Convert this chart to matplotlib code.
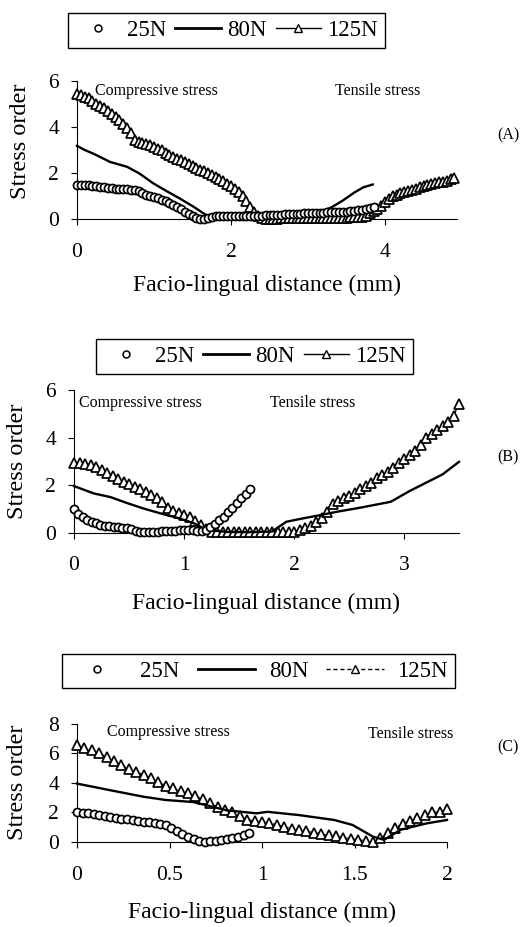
import numpy as np
import matplotlib
matplotlib.use("Agg")
import matplotlib.pyplot as plt
from matplotlib.lines import Line2D
from matplotlib.ticker import FuncFormatter

plt.rcParams['font.family'] = ['Liberation Serif', 'DejaVu Serif']

# ---------------- Panel A data ----------------
a25_x = np.round(np.arange(0, 3.851, 0.05), 2)
a25_y = [1.50, 1.48, 1.47, 1.46, 1.44, 1.42, 1.40, 1.38, 1.36, 1.34,
         1.32, 1.31, 1.30, 1.29, 1.28, 1.25, 1.20, 1.13, 1.06, 1.01,
         0.96, 0.90, 0.84, 0.77, 0.69, 0.61, 0.52, 0.42, 0.32, 0.22,
         0.13, 0.06, 0.01, 0.00, 0.04, 0.10, 0.12, 0.12, 0.12, 0.12,
         0.12, 0.13, 0.13, 0.13, 0.14, 0.14, 0.14, 0.15, 0.15, 0.16,
         0.17, 0.17, 0.18, 0.19, 0.20, 0.21, 0.22, 0.22, 0.23, 0.24,
         0.25, 0.26, 0.27, 0.28, 0.28, 0.29, 0.29, 0.30, 0.30, 0.31,
         0.32, 0.33, 0.35, 0.37, 0.40, 0.44, 0.48, 0.52]
a80_x = [0, 0.1, 0.22, 0.43, 0.65, 0.81, 0.99, 1.17, 1.33, 1.51, 1.64, 1.72,
         1.9, 2.2, 2.5, 2.8, 3.0, 3.15, 3.3, 3.45, 3.6, 3.72, 3.84]
a80_y = [3.18, 3.0, 2.83, 2.48, 2.27, 1.98, 1.55, 1.2, 0.9, 0.54, 0.25, 0.1,
         0.08, 0.08, 0.1, 0.14, 0.2, 0.3, 0.5, 0.8, 1.15, 1.38, 1.5]
a125_x = np.round(np.arange(0, 4.901, 0.05), 2)
a125_y = [5.45, 5.40, 5.32, 5.24, 5.13, 5.00, 4.92, 4.81, 4.68, 4.56,
          4.45, 4.32, 4.13, 3.95, 3.75, 3.45, 3.36, 3.32, 3.27, 3.21,
          3.14, 3.06, 2.98, 2.88, 2.79, 2.71, 2.63, 2.55, 2.47, 2.38,
          2.30, 2.21, 2.14, 2.07, 2.00, 1.93, 1.84, 1.75, 1.65, 1.54,
          1.44, 1.32, 1.18, 1.02, 0.78, 0.52, 0.30, 0.12, 0.04, 0.02,
          0.02, 0.02, 0.02, 0.03, 0.03, 0.03, 0.03, 0.04, 0.04, 0.04,
          0.04, 0.05, 0.05, 0.05, 0.05, 0.05, 0.06, 0.06, 0.06, 0.06,
          0.06, 0.07, 0.07, 0.07, 0.10, 0.15, 0.24, 0.34, 0.44, 0.56,
          0.72, 0.88, 0.98, 1.05, 1.11, 1.17, 1.22, 1.27, 1.32, 1.38,
          1.43, 1.47, 1.51, 1.55, 1.59, 1.63, 1.67, 1.72, 1.78]

# ---------------- Panel B data ----------------
b25_x = np.round(np.arange(0, 1.601, 0.04), 2)
b25_y = [0.98, 0.80, 0.65, 0.53, 0.45, 0.39, 0.34, 0.30, 0.27, 0.25,
         0.23, 0.21, 0.19, 0.15, 0.07, 0.02, 0.01, 0.02, 0.03, 0.05,
         0.06, 0.07, 0.08, 0.09, 0.10, 0.10, 0.11, 0.10, 0.08, 0.06,
         0.10, 0.22, 0.38, 0.52, 0.68, 0.88, 1.05, 1.25, 1.45, 1.62,
         1.85]
b80_x = [0, 0.18, 0.33, 0.48, 0.63, 0.78, 0.96, 1.1, 1.2, 1.4, 1.6, 1.8,
         1.93, 2.08, 2.24, 2.39, 2.6, 2.88, 3.05, 3.2, 3.35, 3.5]
b80_y = [1.96, 1.65, 1.5, 1.25, 1.02, 0.82, 0.6, 0.38, 0.12, 0.03, 0.02, 0.05,
         0.46, 0.6, 0.74, 0.88, 1.05, 1.3, 1.75, 2.1, 2.45, 2.98]
b125_x = np.round(np.arange(0, 3.501, 0.05), 2)
b125_y = [2.92, 2.92, 2.88, 2.85, 2.78, 2.65, 2.52, 2.38, 2.25, 2.14,
          2.04, 1.94, 1.82, 1.70, 1.58, 1.48, 1.28, 1.05, 0.92, 0.82,
          0.76, 0.68, 0.50, 0.32, 0.15, 0.05, 0.02, 0.01, 0.01, 0.01,
          0.01, 0.01, 0.01, 0.01, 0.01, 0.01, 0.02, 0.02, 0.02, 0.02,
          0.05, 0.12, 0.20, 0.30, 0.45, 0.62, 0.85, 1.20, 1.35, 1.45,
          1.56, 1.68, 1.82, 1.96, 2.10, 2.28, 2.42, 2.55, 2.72, 2.92,
          3.08, 3.25, 3.45, 3.70, 3.98, 4.15, 4.32, 4.48, 4.65, 4.92,
          5.40]

# ---------------- Panel C data ----------------
c25_x = np.round(np.arange(0, 0.931, 0.03), 2)
c25_y = [2.04, 1.98, 1.93, 1.88, 1.83, 1.76, 1.70, 1.64, 1.58, 1.53,
         1.48, 1.42, 1.37, 1.33, 1.28, 1.22, 1.12, 0.92, 0.72, 0.55,
         0.35, 0.18, 0.05, 0.02, 0.05, 0.08, 0.12, 0.20, 0.26, 0.35,
         0.48, 0.60]
c80_x = [0, 0.18, 0.36, 0.48, 0.63, 0.81, 0.97, 1.03, 1.2, 1.39, 1.49, 1.6,
         1.66, 1.75, 1.89, 2.0]
c80_y = [3.95, 3.5, 3.06, 2.84, 2.7, 2.14, 1.94, 2.04, 1.82, 1.49, 1.15, 0.36,
         0.15, 0.83, 1.26, 1.49]
c125_x = np.round(np.arange(0, 2.001, 0.04), 2)
c125_y = [6.55, 6.35, 6.20, 6.00, 5.75, 5.45, 5.20, 4.95, 4.75, 4.55,
          4.30, 4.05, 3.82, 3.62, 3.45, 3.28, 3.08, 2.90, 2.62, 2.35,
          2.15, 2.00, 1.75, 1.50, 1.42, 1.38, 1.30, 1.15, 1.02, 0.90,
          0.80, 0.72, 0.64, 0.55, 0.45, 0.38, 0.30, 0.22, 0.15, 0.08,
          0.02, 0.25, 0.60, 0.95, 1.25, 1.42, 1.60, 1.80, 2.00, 2.05,
          2.20]

labels = ['25N', '80N', '125N']
xlabel = 'Facio-lingual distance (mm)'
ylabel = 'Stress order'

W, H = 529, 927
fig = plt.figure(figsize=(W / 100, H / 100), dpi=100)


def px_axes(l, r, t, b):
    return fig.add_axes([l / W, 1 - b / H, (r - l) / W, (b - t) / H])


def style(ax, xlim, ylim, xticks, yticks, xl_y, yl_x, yl_y):
    ax.set_xlim(*xlim)
    ax.set_ylim(*ylim)
    for s in ['top', 'right']:
        ax.spines[s].set_visible(False)
    for s in ['left', 'bottom']:
        ax.spines[s].set_linewidth(0.8)
    ax.set_xticks(xticks)
    ax.set_yticks(yticks)
    ax.xaxis.set_major_formatter(FuncFormatter(lambda v, p: ('%g' % v)))
    ax.tick_params(axis='x', direction='out', length=4, width=0.8,
                   pad=13, labelsize=15.5)
    ax.tick_params(axis='y', direction='out', length=4, width=0.8,
                   pad=9, labelsize=15.5)
    ax.set_xlabel(xlabel, fontsize=17)
    ax.xaxis.label.set_va('center')
    ax.xaxis.set_label_coords(0.5, xl_y)
    ax.set_ylabel(ylabel, fontsize=17.5)
    ax.yaxis.label.set_va('center')
    ax.yaxis.set_label_coords(yl_x, yl_y)
    ax.patch.set_visible(False)


def draw(ax, x25, y25, x80, y80, x125, y125, ls125='-'):
    ax.plot(x125, y125, color='black', lw=0.9, ls=ls125, marker='^',
            ms=6.5, mfc='white', mec='black', mew=1.25, clip_on=False, zorder=3)
    ax.plot(x80, y80, color='black', lw=1.7, clip_on=False, zorder=4)
    ax.plot(x25, y25, ls='none', marker='o', ms=5.8, mfc='white',
            mec='black', mew=1.25, clip_on=False, zorder=5)


def legend(cx, cy, ls125='-', hl=2.0, htp=0.25, cs=0.4):
    h = [Line2D([], [], ls='none', marker='o', ms=5, mfc='white', mec='black', mew=1.1),
         Line2D([], [], color='black', lw=2.0),
         Line2D([], [], color='black', lw=1.0, ls=ls125, marker='^', ms=5.5,
                mfc='white', mec='black', mew=1.0)]
    lg = fig.legend(h, labels, loc='center', bbox_to_anchor=(cx / W, 1 - cy / H),
                    ncol=3, frameon=True, fancybox=False, edgecolor='black',
                    framealpha=1, fontsize=16.5, borderpad=0.3,
                    handlelength=hl, handletextpad=htp, columnspacing=cs,
                    borderaxespad=0)
    lg.get_frame().set_linewidth(1.0)
    return lg


# ---- Panel A ----
axA = px_axes(77, 456.7, 81, 219)
draw(axA, a25_x, a25_y, a80_x, a80_y, a125_x, a125_y)
style(axA, (0, 4.93), (0, 6), [0, 2, 4], [0, 2, 4, 6], -0.478, -0.149, 0.56)
axA.text(0.23, 5.57, 'Compressive stress', fontsize=11.5, ha='left', va='center')
axA.text(3.35, 5.57, 'Tensile stress', fontsize=11.5, ha='left', va='center')
fig.text(497 / W, 1 - 135 / H, '(A)', fontsize=11.5, ha='left', va='center')
legend(226.5, 30.5)

# ---- Panel B ----
axB = px_axes(74, 459, 390, 532.7)
draw(axB, b25_x, b25_y, b80_x, b80_y, b125_x, b125_y)
style(axB, (0, 3.5), (0, 6), [0, 1, 2, 3], [0, 2, 4, 6], -0.493, -0.147, 0.498)
axB.text(0.045, 5.45, 'Compressive stress', fontsize=11.5, ha='left', va='center')
axB.text(1.78, 5.45, 'Tensile stress', fontsize=11.5, ha='left', va='center')
fig.text(497 / W, 1 - 457 / H, '(B)', fontsize=11.5, ha='left', va='center')
legend(254.5, 356.5)

# ---- Panel C ----
axC = px_axes(77, 447, 723.7, 842)
draw(axC, c25_x, c25_y, c80_x, c80_y, c125_x, c125_y, ls125=(0, (3, 2)))
style(axC, (0, 2), (0, 8), [0, 0.5, 1, 1.5, 2], [0, 2, 4, 6, 8], -0.592, -0.161, 0.503)
axC.text(0.162, 7.43, 'Compressive stress', fontsize=11.5, ha='left', va='center')
axC.text(1.573, 7.3, 'Tensile stress', fontsize=11.5, ha='left', va='center')
fig.text(497 / W, 1 - 747 / H, '(C)', fontsize=11.5, ha='left', va='center')
legend(258.5, 671, ls125=(0, (3, 2)), hl=2.5, htp=0.6, cs=0.8)

fig.savefig('out.png', dpi=100)
